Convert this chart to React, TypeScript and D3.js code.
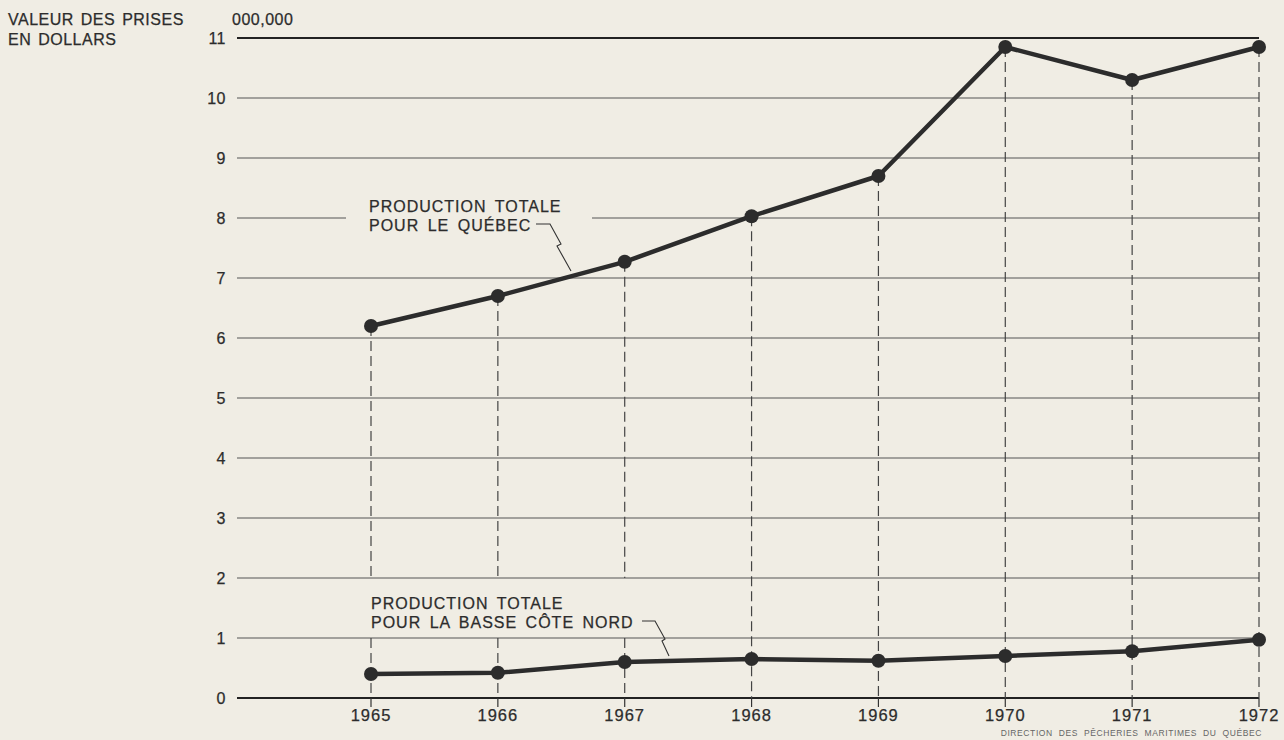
import { useRef, useEffect } from 'react';
import { select, scaleLinear, line, range } from 'd3';

const years = [1965, 1966, 1967, 1968, 1969, 1970, 1971, 1972];
// millions de dollars
const quebec = [6.2, 6.7, 7.27, 8.03, 8.7, 10.85, 10.3, 10.85];
const basseCote = [0.4, 0.42, 0.6, 0.65, 0.62, 0.7, 0.78, 0.97];
const yTicks = range(0, 12);

const WIDTH = 1284;
const HEIGHT = 740;
const LEFT = 237;
const INK = '#2c2c2c';
const FONT = '"Liberation Sans", Arial, Helvetica, sans-serif';

export default function App() {
  const svgRef = useRef<SVGSVGElement>(null);

  useEffect(() => {
    const svg = select(svgRef.current);
    svg.selectAll('*').remove();

    const x = scaleLinear().domain([1965, 1972]).range([371, 1259]);
    const y = scaleLinear().domain([0, 11]).range([698, 38]);
    const right = x(1972);

    svg.append('rect').attr('width', WIDTH).attr('height', HEIGHT).attr('fill', '#f0ede4');

    // grille horizontale
    const grid = svg.append('g');
    yTicks.forEach((t) => {
      const bold = t === 0 || t === 11;
      const segs: [number, number][] = t === 8 ? [[LEFT, 346], [592, right]] : [[LEFT, right]];
      segs.forEach(([a, b]) => {
        grid
          .append('line')
          .attr('x1', a)
          .attr('x2', b)
          .attr('y1', y(t))
          .attr('y2', y(t))
          .attr('stroke', bold ? '#222' : '#555')
          .attr('stroke-width', bold ? 2 : 1);
      });
      grid
        .append('text')
        .attr('x', 226)
        .attr('y', y(t))
        .attr('dy', '0.36em')
        .attr('text-anchor', 'end')
        .attr('font-family', FONT)
        .attr('font-size', 16)
        .attr('letter-spacing', 0.5)
        .attr('fill', INK)
        .attr('stroke', INK)
        .attr('stroke-width', 0.25)
        .text(t);
    });

    // lignes verticales pointillées
    const drops = svg.append('g');
    years.forEach((yr, i) => {
      const cx = x(yr);
      const top = y(quebec[i]);
      // le libellé du bas coupe les pointillés de 1965 à 1967
      const segs: [number, number][] = yr <= 1967 ? [[top, y(2)], [y(1), y(0)]] : [[top, y(0)]];
      segs.forEach(([a, b]) => {
        drops
          .append('line')
          .attr('x1', cx)
          .attr('x2', cx)
          .attr('y1', a)
          .attr('y2', b)
          .attr('stroke', '#444')
          .attr('stroke-width', 1.2)
          .attr('stroke-dasharray', '10 5');
      });
      drops
        .append('line')
        .attr('x1', cx)
        .attr('x2', cx)
        .attr('y1', y(0))
        .attr('y2', y(0) + 9)
        .attr('stroke', '#333')
        .attr('stroke-width', 1.2);
      drops
        .append('text')
        .attr('x', cx)
        .attr('y', 721)
        .attr('text-anchor', 'middle')
        .attr('font-family', FONT)
        .attr('font-size', 16.5)
        .attr('letter-spacing', 1)
        .attr('fill', INK)
        .attr('stroke', INK)
        .attr('stroke-width', 0.25)
        .text(yr);
    });

    // séries
    [quebec, basseCote].forEach((vals) => {
      const pts: [number, number][] = years.map((yr, i) => [x(yr), y(vals[i])]);
      svg
        .append('path')
        .attr('d', line()(pts))
        .attr('fill', 'none')
        .attr('stroke', INK)
        .attr('stroke-width', 4.5)
        .attr('stroke-linejoin', 'round');
      svg
        .append('g')
        .selectAll('circle')
        .data(pts)
        .join('circle')
        .attr('cx', (d) => d[0])
        .attr('cy', (d) => d[1])
        .attr('r', 7)
        .attr('fill', INK);
    });

    // libellés
    const label = (lines: string[], lx: number, ly: number) => {
      lines.forEach((s, i) => {
        svg
          .append('text')
          .attr('x', lx)
          .attr('y', ly + i * 19)
          .attr('font-family', FONT)
          .attr('font-size', 16)
          .attr('letter-spacing', 1)
          .attr('word-spacing', 3)
          .attr('fill', INK)
          .attr('stroke', INK)
          .attr('stroke-width', 0.25)
          .text(s);
      });
    };
    label(['PRODUCTION TOTALE', 'POUR LE QUÉBEC'], 369, 212);
    label(['PRODUCTION TOTALE', 'POUR LA BASSE CÔTE NORD'], 371, 609);

    const leader = (pts: [number, number][]) => {
      svg
        .append('path')
        .attr('d', line()(pts))
        .attr('fill', 'none')
        .attr('stroke', '#333')
        .attr('stroke-width', 1.1);
    };
    leader([[536, 224], [550, 224], [561, 244], [557, 246], [571, 271]]);
    leader([[642, 621], [655, 621], [665, 639], [662, 641], [669, 656]]);

    // titres
    const header = svg
      .append('g')
      .attr('font-family', FONT)
      .attr('font-size', 16)
      .attr('fill', INK)
      .attr('stroke', INK)
      .attr('stroke-width', 0.25)
      .attr('letter-spacing', 0.5)
      .attr('word-spacing', 2);
    header.append('text').attr('x', 8).attr('y', 25).text('VALEUR DES PRISES');
    header.append('text').attr('x', 8).attr('y', 45).text('EN DOLLARS');
    header.append('text').attr('x', 232).attr('y', 25).text('000,000');

    svg
      .append('text')
      .attr('x', 1262)
      .attr('y', 736)
      .attr('text-anchor', 'end')
      .attr('font-family', FONT)
      .attr('font-size', 8.5)
      .attr('letter-spacing', 0.6)
      .attr('word-spacing', 3)
      .attr('fill', '#666')
      .text('DIRECTION DES PÊCHERIES MARITIMES DU QUÉBEC');
  }, []);

  return (
    <svg
      ref={svgRef}
      width={WIDTH}
      height={HEIGHT}
      style={{ position: 'absolute', left: 0, top: 0, display: 'block' }}
    />
  );
}
